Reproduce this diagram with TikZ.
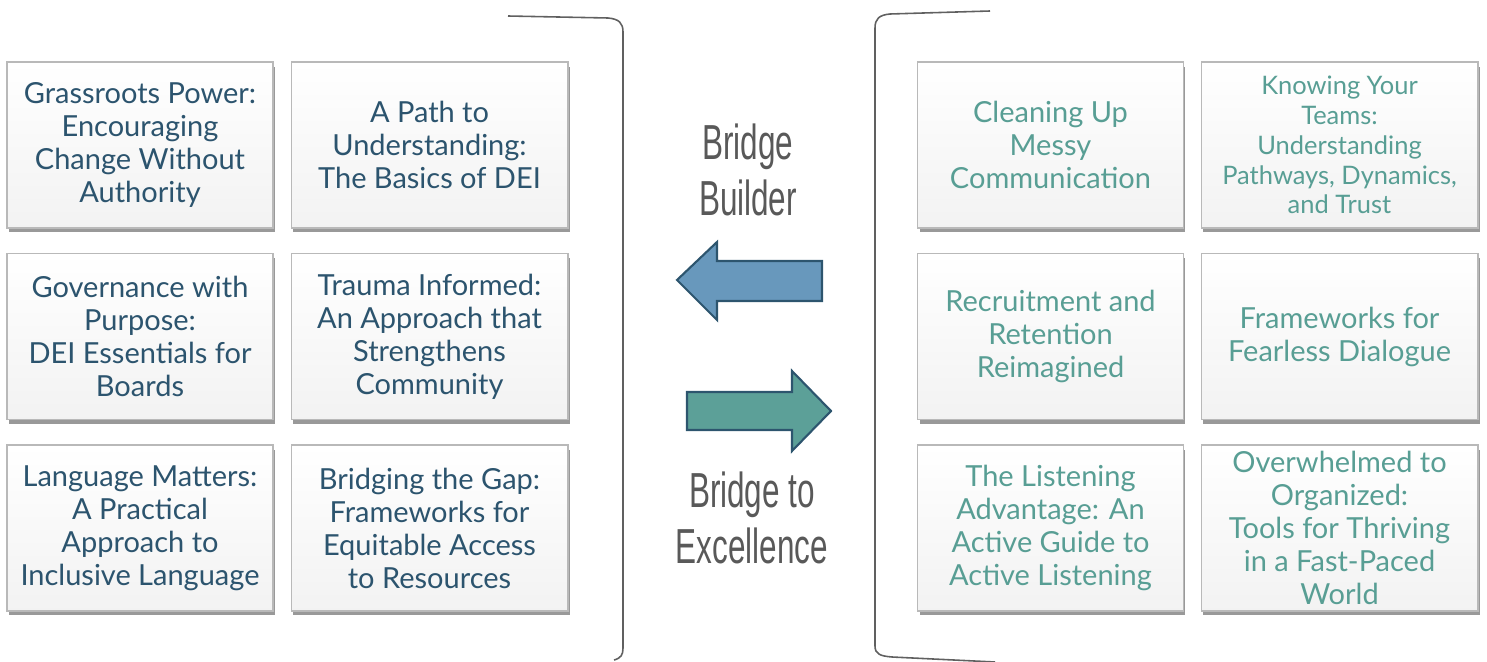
\documentclass[tikz,border=0pt]{standalone}
\usepackage{fontspec}
\usepackage{tikz}
\usetikzlibrary{shadows, positioning}

\newfontfamily\tilefont{Lato}
\newfontfamily\bridgefont[FakeStretch=0.64]{Liberation Sans}
\definecolor{slateText}{RGB}{44,84,110}
\definecolor{tealText}{RGB}{88,158,148}
\definecolor{bridgeGray}{RGB}{89,89,89}
\definecolor{arrowEdge}{RGB}{45,85,110}
\definecolor{builderBlue}{RGB}{104,152,188}
\definecolor{excelTeal}{RGB}{92,160,152}

\tikzset{
  tile/.style={draw=gray!55, line width=0.6pt, top color=white, bottom color=gray!10,
    minimum height=3.32cm, inner sep=2pt, align=center,
    font=\tilefont\fontsize{16.5}{18.8}\selectfont,
    drop shadow={shadow xshift=0.4mm, shadow yshift=-0.9mm, opacity=0.4, fill=black}},
  narrowtile/.style={tile, minimum width=5.32cm},
  widetile/.style={tile, minimum width=5.54cm},
  bracket/.style={draw=gray!75!black, line width=0.9pt},
  bridgetext/.style={text=bridgeGray, align=center, font=\bridgefont\fontsize{28}{32}\selectfont},
  bigarrow/.style={draw=arrowEdge, line width=1.2pt, line join=miter}
}

\begin{document}
\begin{tikzpicture}[x=0.02cm, y=-0.02cm]
    \useasboundingbox (0,0) rectangle (1487,662);

    % Brackets
    \draw[bracket] (508,16) -- (608,18) .. controls (619,19) and (623,23) .. (623,32) -- (623,648) .. controls (623,655) and (621,658) .. (614,660);
    \draw[bracket] (990,11) -- (890,14) .. controls (879,15) and (875,19) .. (875,28) -- (875,646) .. controls (875,654) and (880,656) .. (892,657) -- (995,662);

    % Left column: Bridge Builder topics
    \node[narrowtile, text=slateText] (grassroots) at (140,145) {Grassroots Power:\\Encouraging\\Change Without\\Authority};
    \node[widetile, text=slateText] (path) at (429.5,145) {A Path to\\Understanding:\\The Basics of DEI};
    \node[narrowtile, text=slateText] (governance) at (140,336.5) {Governance with\\Purpose:\\DEI Essentials for\\Boards};
    \node[widetile, text=slateText] (trauma) at (429.5,336.5) {Trauma Informed:\\An Approach that\\Strengthens\\Community};
    \node[narrowtile, text=slateText] (language) at (140,528) {Language Matters:\\A Practical\\Approach to\\Inclusive Language};
    \node[widetile, text=slateText] (gap) at (429.5,528) {Bridging the Gap:\\Frameworks for\\Equitable Access\\to Resources};

    % Right column: Bridge to Excellence topics
    \node[narrowtile, text=tealText] (cleaning) at (1050.5,145) {Cleaning Up\\Messy\\Communication};
    \node[widetile, text=tealText, font=\tilefont\fontsize{14.5}{17}\selectfont] (teams) at (1339.5,145) {Knowing Your\\Teams:\\Understanding\\Pathways, Dynamics,\\and Trust};
    \node[narrowtile, text=tealText] (recruit) at (1050.5,336.5) {Recruitment and\\Retention\\Reimagined};
    \node[widetile, text=tealText] (dialogue) at (1339.5,336.5) {Frameworks for\\Fearless Dialogue};
    \node[narrowtile, text=tealText] (listening) at (1050.5,528) {The Listening\\Advantage: An\\Active Guide to\\Active Listening};
    \node[widetile, text=tealText] (organized) at (1339.5,528) {Overwhelmed to\\Organized:\\Tools for Thriving\\in a Fast-Paced\\World};

    % Middle labels and arrows
    \node[bridgetext] (builder) at (748,170) {Bridge\\Builder};
    \node[bridgetext] (excellence) at (752,518) {Bridge to\\Excellence};

    \draw[bigarrow, fill=builderBlue] (677,280) -- (717,242) -- (717,261) -- (822,261) -- (822,301) -- (717,301) -- (717,320) -- cycle;
    \draw[bigarrow, fill=excelTeal] (687,392) -- (792,392) -- (792,371) -- (831,411) -- (792,451) -- (792,430) -- (687,430) -- cycle;
\end{tikzpicture}
\end{document}
